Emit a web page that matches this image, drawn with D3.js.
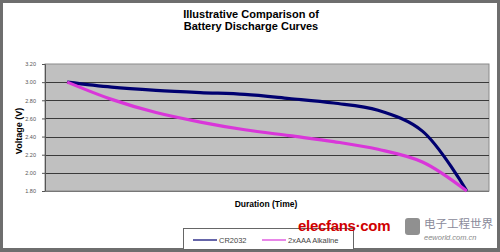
<!DOCTYPE html>
<html>
<head>
<meta charset="utf-8">
<script src="https://cdn.jsdelivr.net/npm/d3@7"></script>
<style>
  html, body { margin: 0; padding: 0; background: #fff; }
  svg { display: block; }
</style>
</head>
<body>
<svg id="chart" width="500" height="252"></svg>
<script>
const categories = [1, 2, 3, 4, 5, 6, 7, 8, 9, 10];
const cr2032 = [3.00, 2.945, 2.91, 2.885, 2.865, 2.82, 2.77, 2.69, 2.46, 1.80];
const alkaline = [3.00, 2.81, 2.665, 2.56, 2.475, 2.41, 2.345, 2.26, 2.12, 1.80];
const yTicks = [1.80, 2.00, 2.20, 2.40, 2.60, 2.80, 3.00, 3.20];

const series = [
  { name: "CR2032", values: cr2032, color: "#000070" },
  { name: "2xAAA Alkaline", values: alkaline, color: "#d936d9" }
];

const svg = d3.select("#chart");
const W = 500, H = 252;
const plot = { left: 45, right: 489, top: 64, bottom: 191 };

// outer frame
svg.append("rect").attr("width", W).attr("height", H).attr("fill", "#6e6e6e");
svg.append("rect").attr("x", 3).attr("y", 3).attr("width", W - 6).attr("height", H - 7).attr("fill", "#fff");

const x = d3.scaleBand().domain(categories).range([plot.left, plot.right]).padding(0);
const y = d3.scaleLinear().domain([1.8, 3.2]).range([plot.bottom, plot.top]);
const cx = d => x(d) + x.bandwidth() / 2;

// plot background
svg.append("rect")
  .attr("x", plot.left).attr("y", plot.top)
  .attr("width", plot.right - plot.left).attr("height", plot.bottom - plot.top)
  .attr("fill", "#c0c0c0").attr("stroke", "#8a8a8a").attr("stroke-width", 1);

// gridlines
svg.append("g").selectAll("line")
  .data(yTicks.filter(t => t > 1.8 && t < 3.2))
  .join("line")
  .attr("x1", plot.left).attr("x2", plot.right)
  .attr("y1", d => Math.round(y(d)) + 0.5).attr("y2", d => Math.round(y(d)) + 0.5)
  .attr("stroke", "#3a3a3a").attr("stroke-width", 1);

// y axis
const yAxis = svg.append("g")
  .attr("transform", `translate(${plot.left},0)`)
  .call(d3.axisLeft(y).tickValues(yTicks).tickFormat(d3.format(".2f")).tickSize(3).tickPadding(6));
yAxis.select(".domain").attr("stroke", "#555");
yAxis.selectAll(".tick line").attr("stroke", "#555");
yAxis.selectAll("text").attr("font-family", "Liberation Sans, Arial, sans-serif")
  .attr("font-size", 5.5).attr("fill", "#555");

// x axis baseline
svg.append("line")
  .attr("x1", plot.left).attr("x2", plot.right)
  .attr("y1", plot.bottom + 0.5).attr("y2", plot.bottom + 0.5)
  .attr("stroke", "#777");

// lines
const line = d3.line()
  .x((d, i) => cx(categories[i]))
  .y(d => y(d))
  .curve(d3.curveCatmullRom.alpha(0.5));

svg.append("g").selectAll("path")
  .data(series)
  .join("path")
  .attr("d", s => line(s.values))
  .attr("fill", "none")
  .attr("stroke", s => s.color)
  .attr("stroke-width", 3.2)
  .attr("stroke-linejoin", "round");

// titles
const font = "Liberation Sans, Arial, sans-serif";
const title = svg.append("text")
  .attr("x", 251).attr("y", 18)
  .attr("text-anchor", "middle")
  .attr("font-family", font).attr("font-weight", "bold").attr("font-size", 11)
  .attr("fill", "#000");
title.append("tspan").attr("x", 251).attr("dy", 0).text("Illustrative Comparison of");
title.append("tspan").attr("x", 251).attr("dy", 12).text("Battery Discharge Curves");

svg.append("text")
  .attr("transform", "translate(22,131) rotate(-90)")
  .attr("text-anchor", "middle")
  .attr("font-family", font).attr("font-weight", "bold").attr("font-size", 9)
  .text("Voltage (V)");

svg.append("text")
  .attr("x", 266).attr("y", 207)
  .attr("text-anchor", "middle")
  .attr("font-family", font).attr("font-weight", "bold").attr("font-size", 8.5)
  .text("Duration (Time)");

// legend
const legend = svg.append("g");
legend.append("rect")
  .attr("x", 183.5).attr("y", 228.5).attr("width", 170).attr("height", 21)
  .attr("fill", "#fff").attr("stroke", "#666");
const item = legend.selectAll("g.item")
  .data(series)
  .join("g")
  .attr("class", "item")
  .attr("transform", (d, i) => `translate(${193 + i * 69},240)`);
item.append("line").attr("x1", 0).attr("x2", 24)
  .attr("stroke", d => d.color).attr("stroke-width", 1.2);
item.append("text").attr("x", 26).attr("y", 3)
  .attr("font-family", font).attr("font-size", 7.5).attr("fill", "#444")
  .text(d => d.name);

// watermark
svg.append("text")
  .attr("x", 298).attr("y", 231)
  .attr("font-family", font).attr("font-weight", "bold").attr("font-size", 15)
  .attr("fill", "#d00000").attr("letter-spacing", -0.3)
  .text("elecfans·com");
svg.append("rect").attr("x", 405).attr("y", 218).attr("width", 15).attr("height", 17)
  .attr("rx", 3).attr("fill", "#909090");
svg.append("text")
  .attr("x", 424).attr("y", 228)
  .attr("font-family", "Noto Sans CJK SC, sans-serif").attr("font-size", 11.5)
  .attr("fill", "#8a8a9a")
  .text("电子工程世界");
svg.append("text")
  .attr("x", 424).attr("y", 240)
  .attr("font-family", font).attr("font-style", "italic").attr("font-size", 7.5)
  .attr("fill", "#888")
  .text("eeworld.com.cn");
</script>
</body>
</html>
